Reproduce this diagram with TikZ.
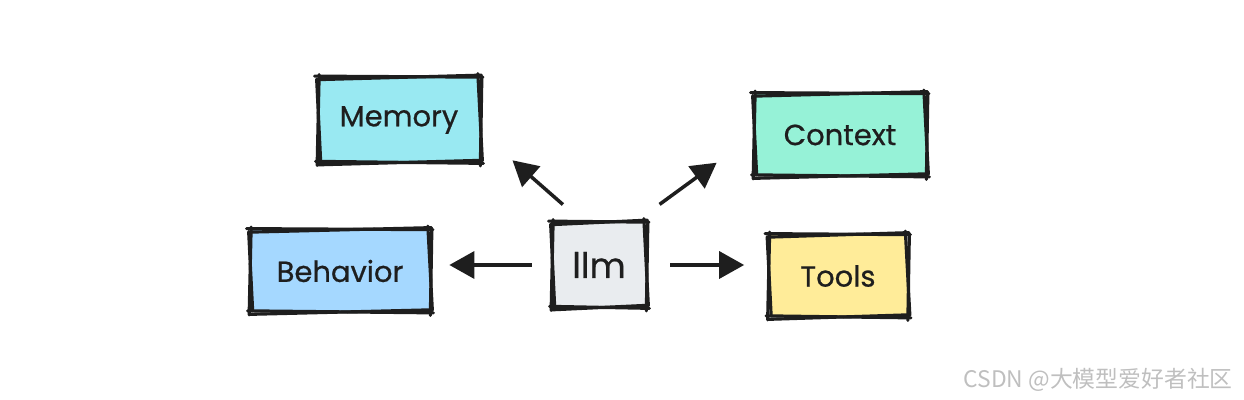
\documentclass[tikz,border=0pt]{standalone}
\usepackage{fontspec}
\setmainfont{Poppins}
\newfontfamily\handfont{Poppins}[FakeBold=0.7]
\newfontfamily\cjkfont{Noto Sans CJK SC}
\usetikzlibrary{arrows.meta}

\definecolor{ink}{HTML}{1E1E1E}
\definecolor{cyanfill}{HTML}{99E9F2}
\definecolor{mintfill}{HTML}{96F2D7}
\definecolor{bluefill}{HTML}{A5D8FF}
\definecolor{grayfill}{HTML}{E9ECEF}
\definecolor{yellowfill}{HTML}{FFEC99}

% rough double outline round a node
\newcommand\sketchbox[1]{%
  \draw[skline] ([shift={(-0.08,0.03)}]#1.north west) -- ([shift={(0.07,0.01)}]#1.north east);
  \draw[skline] ([shift={(-0.02,-0.04)}]#1.north west) -- ([shift={(0.04,0.05)}]#1.north east);
  \draw[skline] ([shift={(0.05,0.02)}]#1.north east) -- ([shift={(0.02,-0.07)}]#1.south east);
  \draw[skline] ([shift={(-0.03,0.08)}]#1.north east) -- ([shift={(0.06,0.03)}]#1.south east);
  \draw[skline] ([shift={(0.08,-0.02)}]#1.south east) -- ([shift={(-0.06,0.02)}]#1.south west);
  \draw[skline] ([shift={(0.03,0.04)}]#1.south east) -- ([shift={(-0.02,-0.05)}]#1.south west);
  \draw[skline] ([shift={(-0.03,-0.06)}]#1.south west) -- ([shift={(0.01,0.06)}]#1.north west);
  \draw[skline] ([shift={(0.04,0.02)}]#1.south west) -- ([shift={(-0.04,-0.03)}]#1.north west);
}

\begin{document}
\begin{tikzpicture}[
  box/.style={draw=none, minimum height=1.62cm, align=center,
              font=\handfont\fontsize{16.5}{18}\selectfont, text=ink},
  skline/.style={draw=ink, line width=1.8pt, line cap=round},
  arr/.style={-{Triangle[length=0.5cm,width=0.54cm]}, draw=ink, fill=ink,
              line width=2pt}
]
  \useasboundingbox (0,0) rectangle (24.88,8);

  % centre node
  \node[box, fill=grayfill, minimum width=1.84cm, minimum height=1.68cm,
        font=\handfont\fontsize{20}{22}\selectfont] (llm) at (11.98,2.7) {llm};

  % outer nodes
  \node[box, fill=cyanfill, minimum width=3.2cm, minimum height=1.68cm] (mem) at (7.98,5.6) {Memory};
  \node[box, fill=mintfill, minimum width=3.4cm] (ctx) at (16.8,5.3) {Context};
  \node[box, fill=bluefill, minimum width=3.56cm] (bhv) at (6.8,2.58) {Behavior};
  \node[box, fill=yellowfill, minimum width=2.74cm] (tls) at (16.76,2.48) {Tools};

  \sketchbox{llm}
  \sketchbox{mem}
  \sketchbox{ctx}
  \sketchbox{bhv}
  \sketchbox{tls}

  % arrows out of llm
  \draw[arr, shorten <=0.55cm, shorten >=0.88cm] (llm.110) -- (mem.-8);
  \draw[arr, shorten <=0.62cm, shorten >=0.94cm] (llm.50) -- (ctx.west);
  \draw[arr, shorten <=0.42cm, shorten >=0.4cm] (llm.west) -- (llm.west -| bhv.east);
  \draw[arr, shorten <=0.5cm, shorten >=0.5cm] (llm.east) -- (llm.east -| tls.west);

  % watermark
  \node[anchor=east, text=black!25, font=\cjkfont\fontsize{13}{13}\selectfont] (wm) at (24.78,0.4) {CSDN @大模型爱好者社区};
\end{tikzpicture}
\end{document}
